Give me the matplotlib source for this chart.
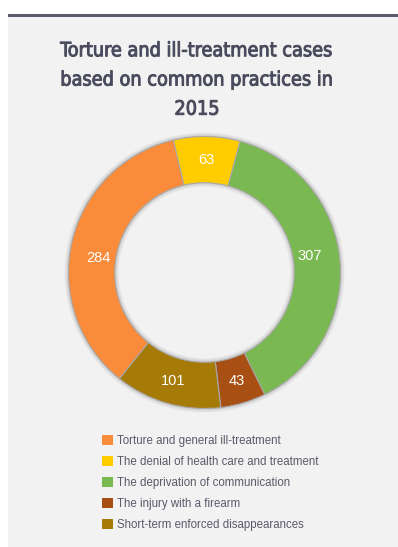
import numpy as np
import matplotlib.pyplot as plt
import matplotlib.patheffects as pe
from matplotlib.patches import Rectangle, Wedge

categories = [
    "Torture and general ill-treatment",
    "The denial of health care and treatment",
    "The deprivation of communication",
    "The injury with a firearm",
    "Short-term enforced disappearances",
]
cases = [284, 63, 307, 43, 101]
colors = ["#F98B3A", "#FFCC00", "#7AB951", "#A84F14", "#A57A07"]
title = "Torture and ill-treatment cases\nbased on common practices in\n2015"

W, H = 398, 547
fig = plt.figure(figsize=(W / 100, H / 100), dpi=100)
fig.patch.set_facecolor("white")

# grey panel with dark rule on top
fig.add_artist(Rectangle((8 / W, 0), 1, (H - 17) / H, transform=fig.transFigure,
                         facecolor="#F2F2F2", edgecolor="none", zorder=0))
fig.add_artist(Rectangle((8 / W, (H - 17) / H), 1, 3 / H, transform=fig.transFigure,
                         facecolor="#5B5B6B", edgecolor="none", zorder=1))

title_color = "#4A4C5E"
fig.text(197 / W, 1 - 80 / H, title, ha="center", va="center", fontsize=14.2,
         family="DejaVu Sans", fontstretch="condensed", color=title_color,
         linespacing=1.68, path_effects=[pe.withStroke(linewidth=0.7, foreground=title_color)])

# donut
cx, cy, R = 204.5, 272.5, 136
pad = 1.12
ax = fig.add_axes([(cx - R * pad) / W, (H - cy - R * pad) / H, 2 * R * pad / W, 2 * R * pad / H])

ring = 0.34
# soft shadow around the ring
for k in range(8):
    d = 0.004 * (k + 1)
    ax.add_patch(Wedge((0, 0), 1 + d, 0, 360, width=ring + 2 * d,
                       facecolor="black", alpha=0.02, edgecolor="none", zorder=1))

total = sum(cases)
start = 90 + 13.2 + 360 * cases[0] / total
wedges, texts = ax.pie(cases, colors=colors, startangle=start, counterclock=False,
                       radius=1, labels=[str(c) for c in cases], labeldistance=0.83,
                       wedgeprops=dict(width=ring, edgecolor="#A8A8A8", linewidth=0.8),
                       textprops=dict(color="white", fontsize=10.5, family="Liberation Sans"))
for w in wedges:
    w.set_zorder(2)
for t in texts:
    t.set_ha("center")
    t.set_va("center")
    t.set_zorder(3)

# the two large slices carry their labels a little off the middle angle
for i, ang in ((0, 172), (2, 8.8)):
    a = np.radians(ang)
    texts[i].set_position((0.785 * np.cos(a), 0.785 * np.sin(a)))

ax.set_xlim(-pad, pad)
ax.set_ylim(-pad, pad)
ax.set_aspect("equal")
ax.axis("off")

leg = fig.legend(wedges, categories, loc="upper left", bbox_to_anchor=(96 / W, 1 - 429 / H),
                 frameon=False, prop=dict(family="Liberation Sans", size=8.3),
                 handlelength=1.0, handleheight=1.0, handletextpad=0.3, labelspacing=0.78,
                 labelcolor="#5A5A6A", borderpad=0)
for h in leg.legend_handles:
    h.set_edgecolor("none")

fig.savefig("out.png", dpi=100, facecolor=fig.get_facecolor())
